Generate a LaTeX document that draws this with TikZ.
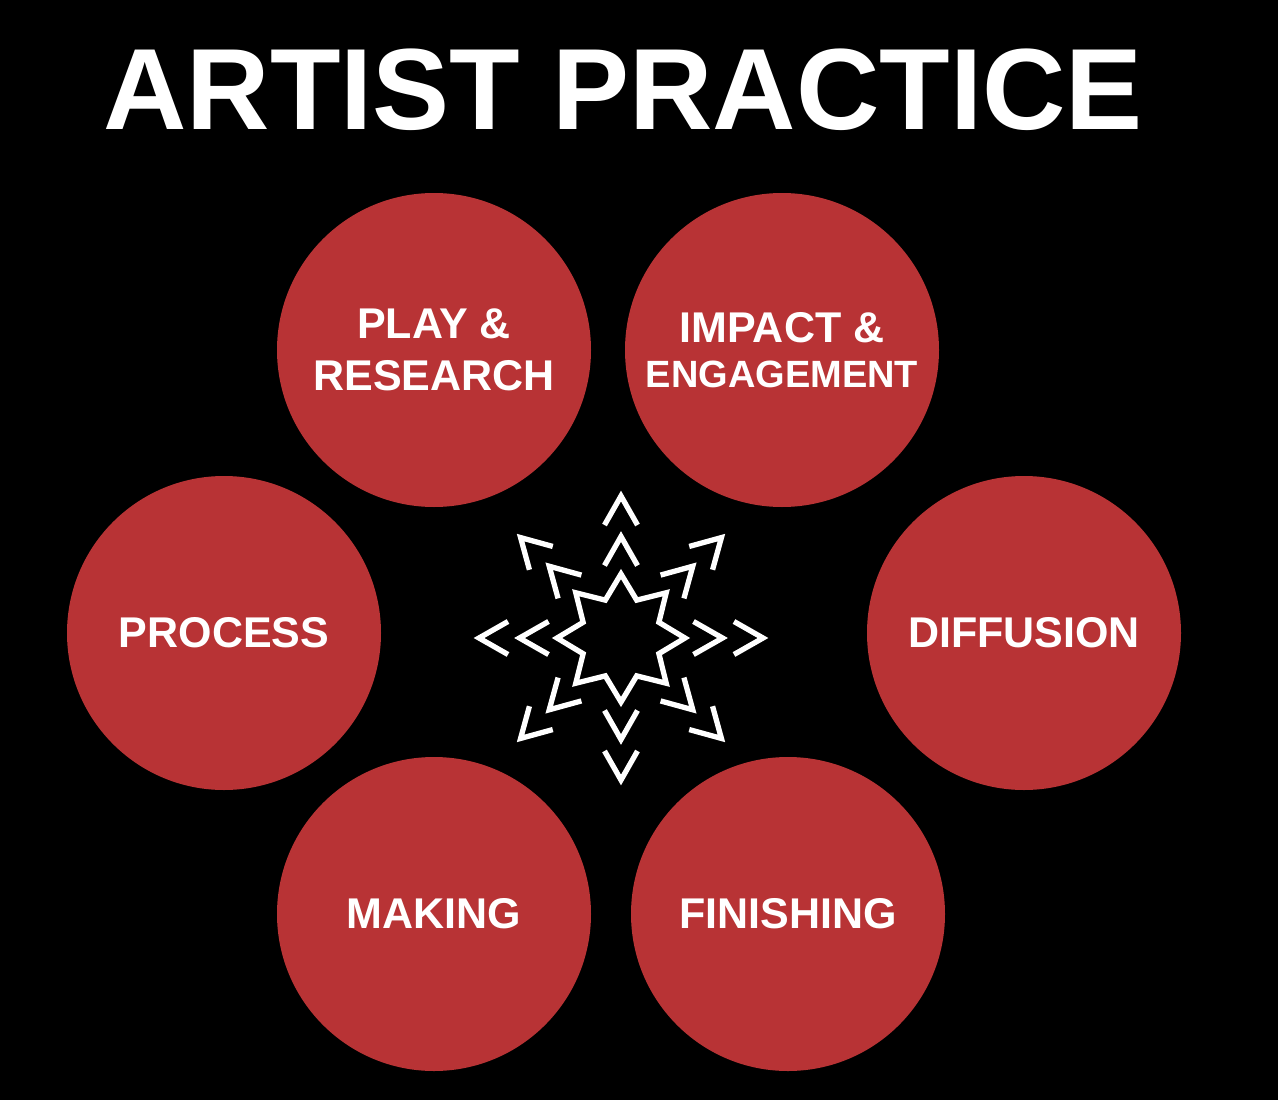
\documentclass[tikz,border=0pt]{standalone}
\usepackage{fontspec}
\setmainfont{Liberation Sans}
\definecolor{discred}{RGB}{184,51,53}
\tikzset{
  disc/.style={circle, fill=discred, minimum size=314pt, inner sep=0pt,
    text=white, align=center,
    font=\fontsize{43}{52}\selectfont\bfseries},
  wline/.style={draw=white, line width=5.3pt, miter limit=10, line join=miter, line cap=butt},
}
\begin{document}
\begin{tikzpicture}[x=1pt,y=-1pt]
\fill[black] (0,0) rectangle (1278,1100);
\useasboundingbox (0,0) rectangle (1278,1100);
\node[anchor=base, text=white, font=\fontsize{115.5}{115.5}\selectfont\bfseries] (title) at (623,129) {ARTIST PRACTICE};
\node[disc] (play) at (434,350) {PLAY \&\\RESEARCH};
\node[disc] (impact) at (782,350) {IMPACT \&\\[-7pt]{\fontsize{38}{45}\selectfont ENGAGEMENT}};
\node[disc] (process) at (224,633) {PROCESS};
\node[disc] (diffusion) at (1024,633) {DIFFUSION};
\node[disc] (making) at (434,914) {MAKING};
\node[disc] (finishing) at (788,914) {FINISHING};
\coordinate (ctr) at (621,638);
\begin{scope}[shift={(ctr)}]
  \draw[wline] (0:64) \foreach \a in {0,45,...,315}{ -- (\a+22.5:41) -- (\a+45:64) } -- cycle;
  \foreach \a in {0,45,...,315}{
    \foreach \d in {101.5,142}{
      \draw[wline, rotate=\a] ({\d-29},16.5) -- (\d,0) -- ({\d-29},-16.5);
    }
  }
\end{scope}
\end{tikzpicture}
\end{document}
